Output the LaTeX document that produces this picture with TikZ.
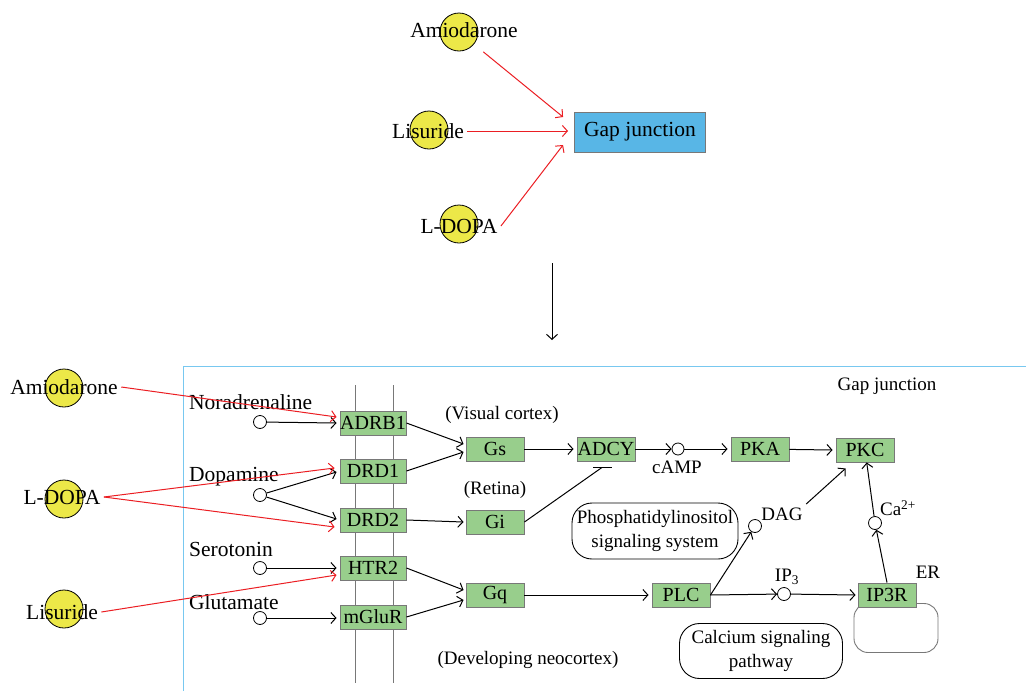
\documentclass[tikz,border=0pt]{standalone}
\usepackage{fontspec}
\setmainfont{Liberation Serif}
\usetikzlibrary{arrows.meta,positioning,calc}
\definecolor{drugYellow}{RGB}{236,232,72}
\definecolor{geneGreen}{RGB}{152,206,140}
\definecolor{gapBlue}{RGB}{88,182,230}
\definecolor{frameBlue}{RGB}{120,200,240}
\definecolor{boxGray}{RGB}{120,120,120}
\definecolor{drugRed}{RGB}{235,30,35}

\begin{document}
\begin{tikzpicture}[x=1pt,y=-1pt,
    every node/.style={font=\fontsize{19}{22}\selectfont},
    big/.style={font=\fontsize{21.5}{24}\selectfont},
    drug/.style={circle,draw=black,fill=drugYellow,minimum size=38pt,inner sep=0pt,line width=0.8pt},
    gene/.style={draw=boxGray,fill=geneGreen,minimum width=58pt,minimum height=24pt,inner sep=0pt,line width=0.9pt,
      font=\fontsize{20}{22}\selectfont},
    receptor/.style={gene,minimum width=66pt},
    cpd/.style={circle,draw=black,minimum size=13pt,inner sep=0pt,line width=0.8pt},
    pathbox/.style={draw=black,rounded corners=20pt,align=center,inner sep=2pt,line width=0.9pt,
      font=\fontsize{19}{24}\selectfont},
    act/.style={-{Straight Barb[length=5pt,width=11pt]},line width=1pt},
    drugact/.style={act,drugRed}]
    \useasboundingbox (0,0) rectangle (1026,691);
    % drugs -> gap junction (overview)
    \node[big,draw=boxGray,fill=gapBlue,minimum width=131pt,minimum height=40pt,line width=0.9pt] (gap) at (640,132) {Gap junction};
    \node[drug] (amioTc) at (459,32) {};
    \node[big] (amioT) at (464,30) {Amiodarone};
    \node[drug] (lisTc) at (429,130) {};
    \node[big] (lisT) at (428,131) {Lisuride};
    \node[drug] (ldopaTc) at (459,224) {};
    \node[big] (ldopaT) at (459,226) {L-DOPA};
    \draw[drugact,shorten <=12pt] (amioTc) -- ($(gap.west)+(-11,-15)$);
    \draw[drugact] (lisT.east) -- ($(gap.west)+(-6,-1)$);
    \draw[drugact] (ldopaT.east) -- ($(gap.west)+(-11,13)$);
    % zoom into the pathway
    \coordinate (downA) at (552,263);
    \coordinate (downB) at (552,340);
    \draw[act] (downA) -- (downB);
    % pathway frame and membrane
    \draw[frameBlue,line width=1pt] (183,691) -- (183,366) -- (1026,366);
    \foreach \x in {355,393}{
      \draw[boxGray,line width=0.9pt] (\x,385) -- (\x,683);
    }
    % receptors
    \foreach \n/\t/\y in {adrb1/ADRB1/423, drd1/DRD1/471, drd2/DRD2/520, htr2/HTR2/568, mglur/mGluR/617}{
      \node[receptor] (\n) at (373,\y) {\t};
    }
    % ligands
    \foreach \n/\t/\y/\ly in {nora/Noradrenaline/422/402, dopa/Dopamine/495/477, sero/Serotonin/568/549, glu/Glutamate/618/602}{
      \node[cpd] (\n) at (260,\y) {};
      \node[big,anchor=west,inner sep=0pt] (\n-lab) at (189,\ly) {\t};
    }
    \draw[act] (nora) -- ($(adrb1.west)+(-3,0)$);
    \draw[act] (dopa) -- ($(drd1.west)+(-3,1)$);
    \draw[act] (dopa) -- ($(drd2.west)+(-3,-1)$);
    \draw[act] (sero) -- ($(htr2.west)+(-3,0)$);
    \draw[act] (glu) -- ($(mglur.west)+(-3,1)$);
    % drugs on the left
    \node[drug] (amioLc) at (64,388) {};
    \node[big] (amioL) at (64,387) {Amiodarone};
    \node[drug] (ldopaLc) at (64,499) {};
    \node[big] (ldopaL) at (62,497) {L-DOPA};
    \node[drug] (lisLc) at (64,609) {};
    \node[big] (lisL) at (62,612) {Lisuride};
    \draw[drugact] (amioL.east) -- ($(adrb1.west)+(-3,-6)$);
    \draw[drugact] (ldopaL.east) -- ($(drd1.west)+(-5,-3)$);
    \draw[drugact] (ldopaL.east) -- ($(drd2.west)+(-5,7)$);
    \draw[drugact] (lisL.east) -- ($(htr2.west)+(-3,7)$);
    % G proteins and downstream
    \node[gene] (gs) at (495,449) {Gs};
    \node[gene] (gi) at (495,522) {Gi};
    \node[gene] (gq) at (495,595) {Gq};
    \node[gene] (adcy) at (606,449) {ADCY};
    \node[cpd,minimum size=12pt] (camp) at (678,449) {};
    \node (campL) at (677,467) {cAMP};
    \node[gene] (pka) at (760,449) {PKA};
    \node[gene] (pkc) at (865,450) {PKC};
    \node[gene] (plc) at (681,595) {PLC};
    \node[cpd] (ip3) at (784,594) {};
    \node (ip3L) at (787,577) {IP\textsubscript{3}};
    \node[draw=boxGray,rounded corners=14pt,minimum width=84pt,minimum height=49pt,line width=0.9pt] (er) at (896,628) {};
    \node[gene] (ip3r) at (887,595) {IP3R};
    \node (erL) at (928,572) {ER};
    \node[cpd] (dag) at (755,526) {};
    \node (dagL) at (782,514) {DAG};
    \node[cpd] (ca) at (875,523) {};
    \node (caL) at (898,508) {Ca\textsuperscript{2+}};
    % tissue labels
    \node (visL) at (502,415) {(Visual cortex)};
    \node (retL) at (495,490) {(Retina)};
    \node (devL) at (528,660) {(Developing neocortex)};
    \node (gapL) at (887,386) {Gap junction};
    % linked pathways
    \node[pathbox,minimum width=166pt,minimum height=56pt] (pis) at (655,531) {Phosphatidylinositol\\signaling system};
    \node[pathbox,minimum width=163pt,minimum height=55pt] (csp) at (761,651) {Calcium signaling\\pathway};
    % relations
    \draw[act] (adrb1.east) -- ($(gs.west)+(-2,-5)$);
    \draw[act] (drd1.east) -- ($(gs.west)+(-2,3)$);
    \draw[act] (drd2.east) -- ($(gi.west)+(-2,0)$);
    \draw[act] (htr2.east) -- ($(gq.west)+(-2,-5)$);
    \draw[act] (mglur.east) -- ($(gq.west)+(-2,5)$);
    \draw[act] (gs) -- ($(adcy.west)+(-3,0)$);
    \draw[act] (adcy) -- (camp);
    \draw[act] (camp) -- ($(pka.west)+(-3,0)$);
    \draw[act] (pka) -- ($(pkc.west)+(-3,0)$);
    \draw[act] (gq) -- ($(plc.west)+(-3,0)$);
    \draw[act] (plc.east) -- (ip3);
    \draw[act] (plc.east) -- (dag);
    \draw[act] (ip3) -- ($(ip3r.west)+(-2,0)$);
    \draw[act] (ip3r.north) -- (ca);
    \draw[act] (ca) -- (pkc);
    \draw[act] (dagL.north east) -- ($(pkc.south west)+(10,6)$);
    % Gi inhibits ADCY
    \coordinate (inhib) at ($(adcy.south)+(-4,6)$);
    \draw[line width=1pt] (gi.east) -- (inhib);
    \draw[line width=1pt] ($(inhib)+(-9,0)$) -- ($(inhib)+(10,0)$);
  \end{tikzpicture}
\end{document}
